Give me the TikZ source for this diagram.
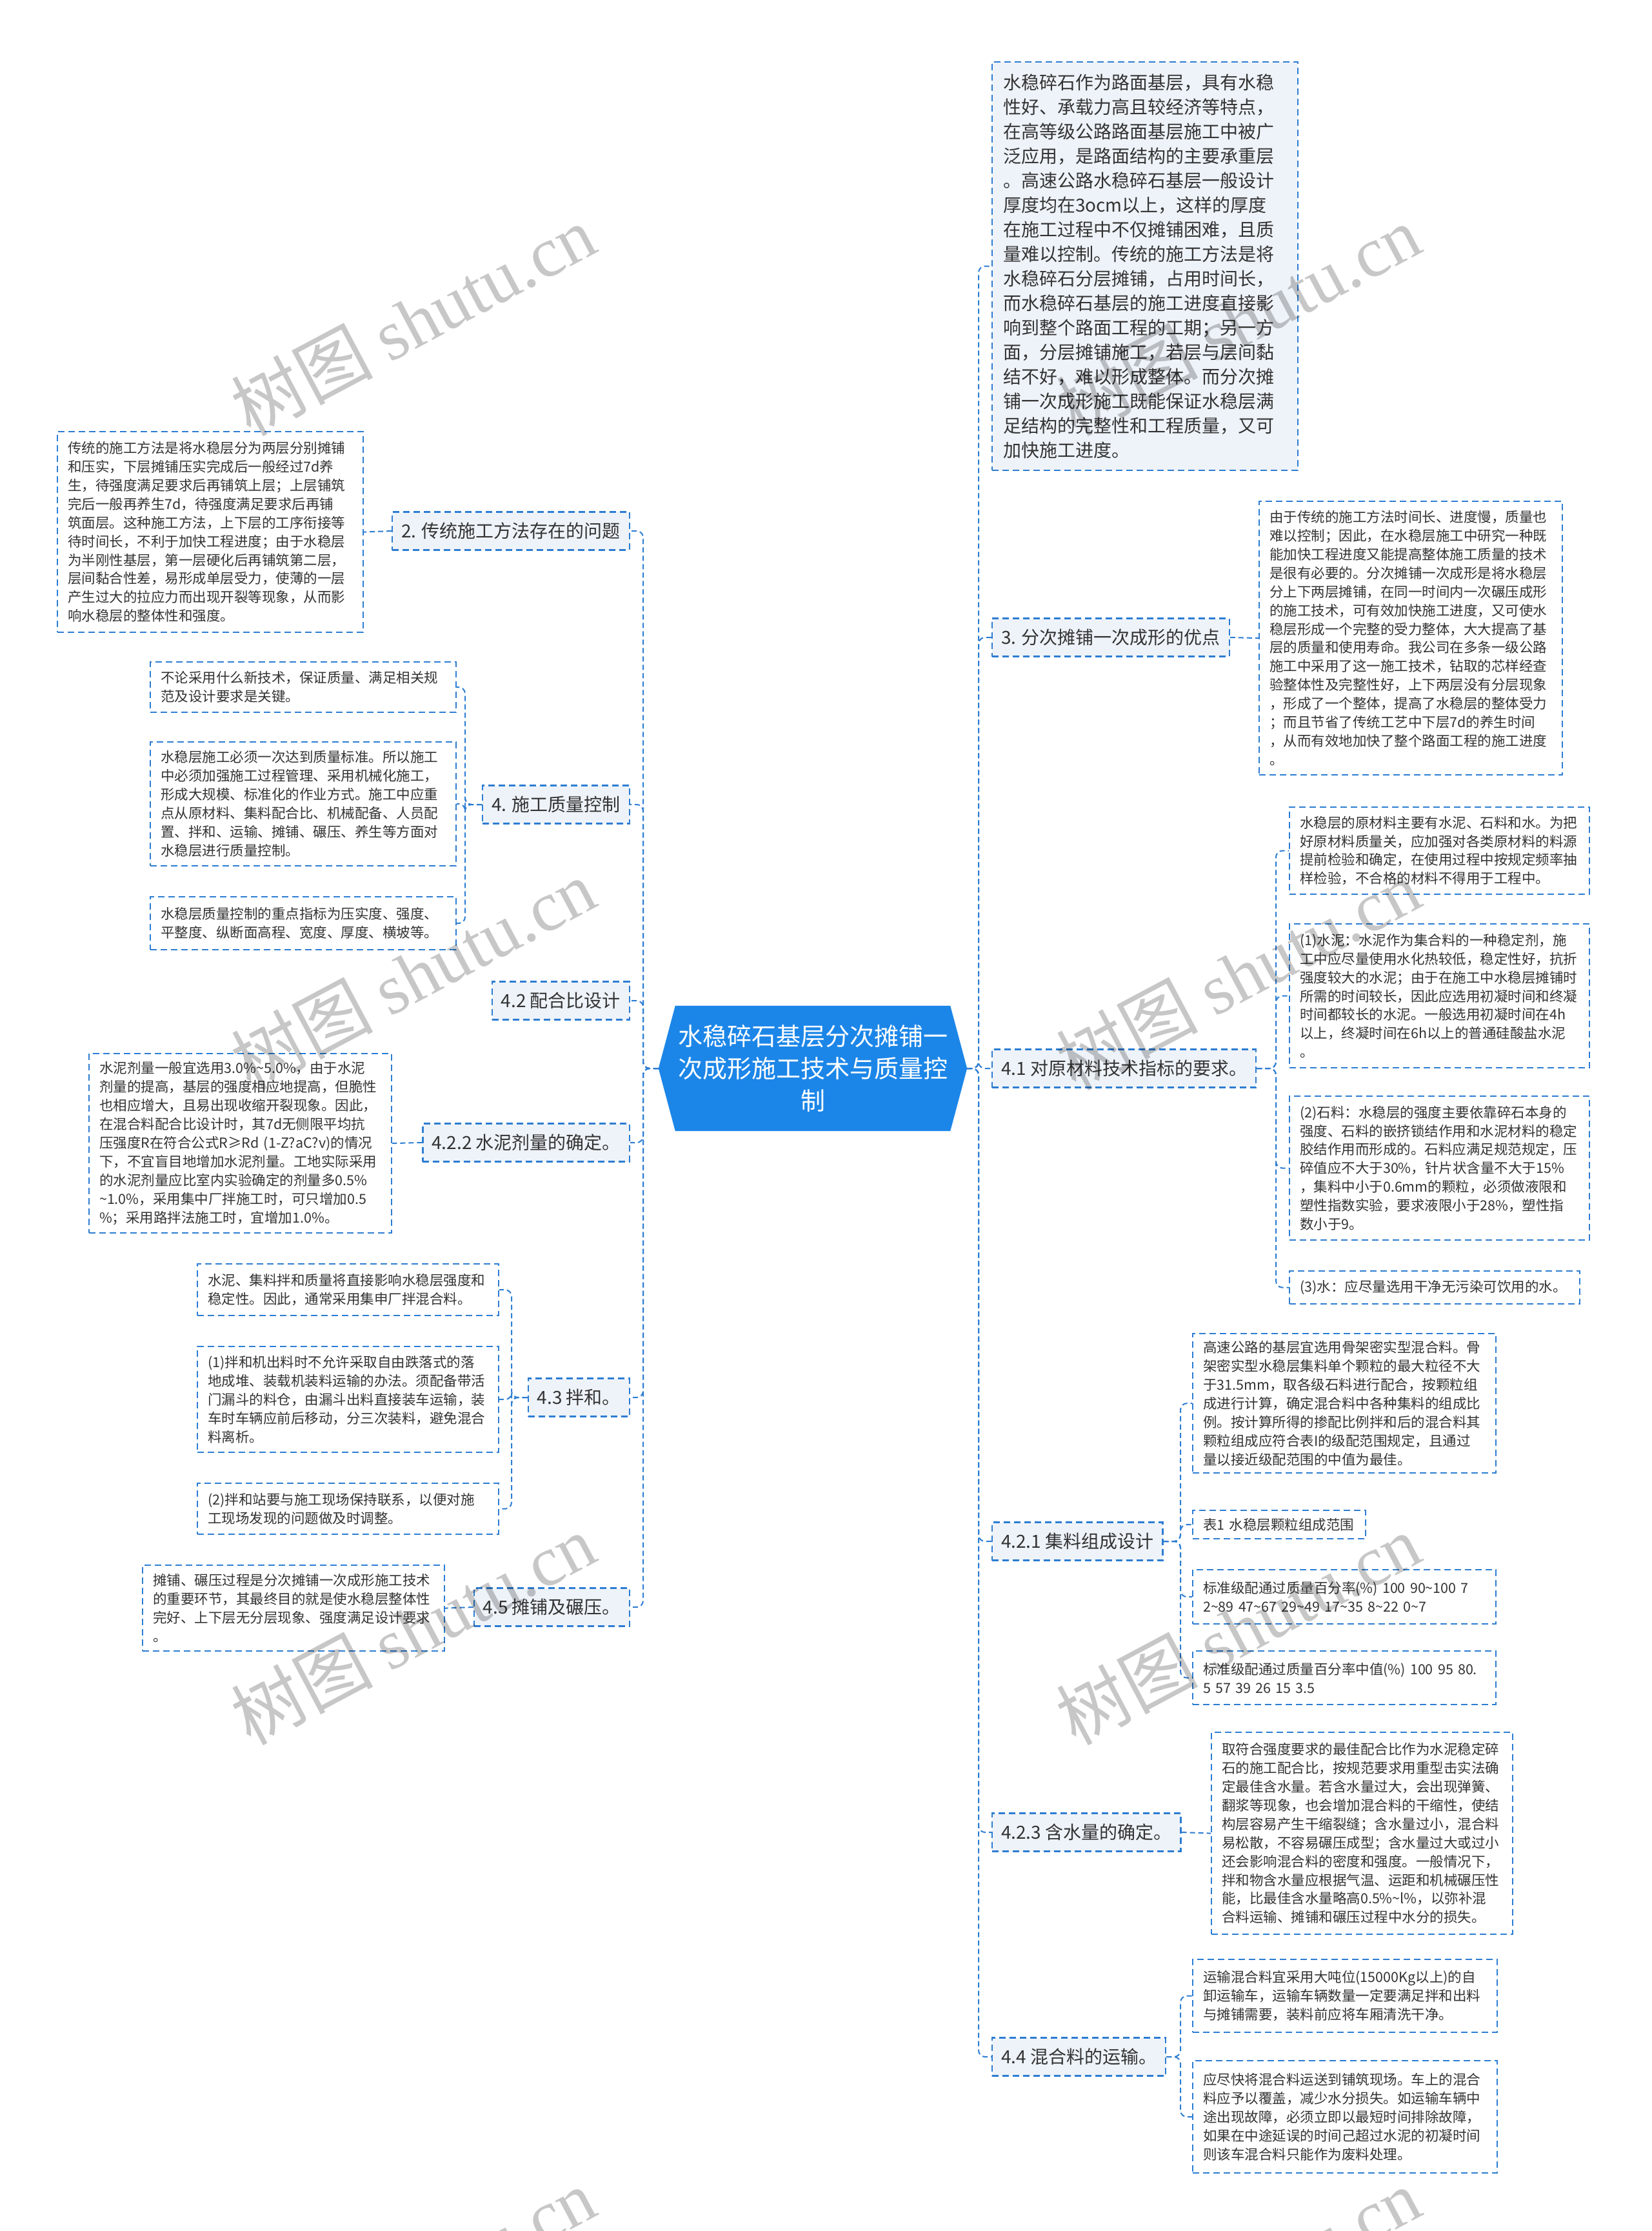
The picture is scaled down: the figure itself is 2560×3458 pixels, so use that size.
\documentclass[tikz,border=0pt]{standalone}
\usepackage{fontspec}
\setmainfont{Noto Sans CJK SC}
\newfontfamily\wmserif{Liberation Serif}
\usetikzlibrary{backgrounds}
\definecolor{lblue}{RGB}{45,125,210}
\definecolor{cblue}{RGB}{28,134,232}
\definecolor{lfill}{RGB}{238,243,249}
\definecolor{txt}{RGB}{51,51,51}
\begin{document}
\begin{tikzpicture}[x=1pt,y=-1pt,
  box/.style={draw=lblue,line width=2.2pt,dash pattern=on 10pt off 6pt,text=txt,align=left,inner xsep=16pt,inner ysep=0pt},
  leaf/.style={box,fill=white,anchor=north west,font=\fontsize{21.5}{28.9}\selectfont},
  lvl/.style={box,fill=lfill,font=\fontsize{28}{36}\selectfont,inner xsep=14pt,minimum height=59pt},
  conn/.style={draw=lblue,line width=2pt,dash pattern=on 8pt off 5pt,rounded corners=10pt},
  wmark/.style={text=black,text opacity=0.22,rotate=28,font=\fontsize{110}{110}\selectfont}
]
\useasboundingbox (0,0) rectangle (2560,3458);

% centre
\node[text=white,align=center,font=\fontsize{38}{50}\selectfont,minimum width=426pt,minimum height=194pt,inner sep=0pt] (c) at (1260,1656) {水稳碎石基层分次摊铺一\\次成形施工技术与质量控\\制};
\coordinate (cL) at ([xshift=-26pt]c.west);
\coordinate (cR) at ([xshift=26pt]c.east);
\begin{scope}[on background layer]
\fill[white] (0,0) rectangle (2560,3458);
\fill[cblue] (cL) -- (c.north west) -- (c.north east) -- (cR) -- (c.south east) -- (c.south west) -- cycle;
\end{scope}
\coordinate (rt) at (1517,1656);
\coordinate (lt) at (997,1656);

% ---------------- right side ----------------
\node[box,fill=lfill,anchor=north west,font=\fontsize{28}{38}\selectfont,inner xsep=17pt,text width=440pt,minimum height=633pt] (R0) at (1537,95) {水稳碎石作为路面基层，具有水稳\\性好、承载力高且较经济等特点，\\在高等级公路路面基层施工中被广\\泛应用，是路面结构的主要承重层\\。高速公路水稳碎石基层一般设计\\厚度均在3ocm以上，这样的厚度\\在施工过程中不仅摊铺困难，且质\\量难以控制。传统的施工方法是将\\水稳碎石分层摊铺，占用时间长，\\而水稳碎石基层的施工进度直接影\\响到整个路面工程的工期；另一方\\面，分层摊铺施工，若层与层间黏\\结不好，难以形成整体。而分次摊\\铺一次成形施工既能保证水稳层满\\足结构的完整性和工程质量，又可\\加快施工进度。};

\node[lvl,anchor=west] (R3) at (1537,988) {3. 分次摊铺一次成形的优点};
\node[leaf,text width=438pt,minimum height=424pt] (R3a) at (1951,776) {由于传统的施工方法时间长、进度慢，质量也\\难以控制；因此，在水稳层施工中研究一种既\\能加快工程进度又能提高整体施工质量的技术\\是很有必要的。分次摊铺一次成形是将水稳层\\分上下两层摊铺，在同一时间内一次碾压成形\\的施工技术，可有效加快施工进度，又可使水\\稳层形成一个完整的受力整体，大大提高了基\\层的质量和使用寿命。我公司在多条一级公路\\施工中采用了这一施工技术，钻取的芯样经查\\验整体性及完整性好，上下两层没有分层现象\\，形成了一个整体，提高了水稳层的整体受力\\；而且节省了传统工艺中下层7d的养生时间\\，从而有效地加快了整个路面工程的施工进度\\。};

\node[lvl,anchor=west] (R41) at (1537,1656) {4.1 对原材料技术指标的要求。};
\node[leaf,text width=433pt,minimum height=135pt] (R41a) at (1998,1250) {水稳层的原材料主要有水泥、石料和水。为把\\好原材料质量关，应加强对各类原材料的料源\\提前检验和确定，在使用过程中按规定频率抽\\样检验，不合格的材料不得用于工程中。};
\node[leaf,text width=433pt,minimum height=223pt] (R41b) at (1998,1431) {(1)水泥：水泥作为集合料的一种稳定剂，施\\工中应尽量使用水化热较低，稳定性好，抗折\\强度较大的水泥；由于在施工中水稳层摊铺时\\所需的时间较长，因此应选用初凝时间和终凝\\时间都较长的水泥。一般选用初凝时间在4h\\以上，终凝时间在6h以上的普通硅酸盐水泥\\。};
\node[leaf,text width=433pt,minimum height=223pt] (R41c) at (1998,1698) {(2)石料：水稳层的强度主要依靠碎石本身的\\强度、石料的嵌挤锁结作用和水泥材料的稳定\\胶结作用而形成的。石料应满足规范规定，压\\碎值应不大于30\%，针片状含量不大于15\%\\，集料中小于0.6mm的颗粒，必须做液限和\\塑性指数实验，要求液限小于28\%，塑性指\\数小于9。};
\node[leaf,text width=418pt,minimum height=51pt] (R41d) at (1998,1969) {(3)水：应尽量选用干净无污染可饮用的水。};

\node[lvl,anchor=west] (R421) at (1537,2389) {4.2.1 集料组成设计};
\node[leaf,text width=438pt,minimum height=216pt] (R421a) at (1848,2066) {高速公路的基层宜选用骨架密实型混合料。骨\\架密实型水稳层集料单个颗粒的最大粒径不大\\于31.5mm，取各级石料进行配合，按颗粒组\\成进行计算，确定混合料中各种集料的组成比\\例。按计算所得的掺配比例拌和后的混合料其\\颗粒组成应符合表I的级配范围规定，且通过\\量以接近级配范围的中值为最佳。};
\node[leaf,text width=236pt,minimum height=44pt] (R421b) at (1848,2340) {表1 水稳层颗粒组成范围};
\node[leaf,text width=438pt,minimum height=84pt] (R421c) at (1848,2432) {标准级配通过质量百分率(\%) 100 90\textasciitilde{}100 7\\2\textasciitilde{}89 47\textasciitilde{}67 29\textasciitilde{}49 17\textasciitilde{}35 8\textasciitilde{}22 0\textasciitilde{}7};
\node[leaf,text width=438pt,minimum height=83pt] (R421d) at (1848,2558) {标准级配通过质量百分率中值(\%) 100 95 80.\\5 57 39 26 15 3.5};

\node[lvl,anchor=west] (R423) at (1537,2840) {4.2.3 含水量的确定。};
\node[leaf,text width=435pt,minimum height=313pt] (R423a) at (1877,2684) {取符合强度要求的最佳配合比作为水泥稳定碎\\石的施工配合比，按规范要求用重型击实法确\\定最佳含水量。若含水量过大，会出现弹簧、\\翻浆等现象，也会增加混合料的干缩性，使结\\构层容易产生干缩裂缝；含水量过小，混合料\\易松散，不容易碾压成型；含水量过大或过小\\还会影响混合料的密度和强度。一般情况下，\\拌和物含水量应根据气温、运距和机械碾压性\\能，比最佳含水量略高0.5\%\textasciitilde{}l\%，以弥补混\\合料运输、摊铺和碾压过程中水分的损失。};

\node[lvl,anchor=west] (R44) at (1537,3188) {4.4 混合料的运输。};
\node[leaf,text width=440pt,minimum height=113pt] (R44a) at (1848,3036) {运输混合料宜采用大吨位(15000Kg以上)的自\\卸运输车，运输车辆数量一定要满足拌和出料\\与摊铺需要，装料前应将车厢清洗干净。};
\node[leaf,text width=440pt,minimum height=174pt] (R44b) at (1848,3193) {应尽快将混合料运送到铺筑现场。车上的混合\\料应予以覆盖，减少水分损失。如运输车辆中\\途出现故障，必须立即以最短时间排除故障，\\如果在中途延误的时间己超过水泥的初凝时间\\则该车混合料只能作为废料处理。};

% ---------------- left side ----------------
\node[lvl,anchor=east] (L2) at (977,823) {2. 传统施工方法存在的问题};
\node[leaf,text width=442pt,minimum height=311pt] (L2a) at (88,668) {传统的施工方法是将水稳层分为两层分别摊铺\\和压实，下层摊铺压实完成后一般经过7d养\\生，待强度满足要求后再铺筑上层；上层铺筑\\完后一般再养生7d，待强度满足要求后再铺\\筑面层。这种施工方法，上下层的工序衔接等\\待时间长，不利于加快工程进度；由于水稳层\\为半刚性基层，第一层硬化后再铺筑第二层，\\层间黏合性差，易形成单层受力，使薄的一层\\产生过大的拉应力而出现开裂等现象，从而影\\响水稳层的整体性和强度。};

\node[lvl,anchor=east] (L4) at (977,1247) {4. 施工质量控制};
\node[leaf,text width=442pt,minimum height=78pt] (L4a) at (232,1025) {不论采用什么新技术，保证质量、满足相关规\\范及设计要求是关键。};
\node[leaf,text width=442pt,minimum height=192pt] (L4b) at (232,1149) {水稳层施工必须一次达到质量标准。所以施工\\中必须加强施工过程管理、采用机械化施工，\\形成大规模、标准化的作业方式。施工中应重\\点从原材料、集料配合比、机械配备、人员配\\置、拌和、运输、摊铺、碾压、养生等方面对\\水稳层进行质量控制。};
\node[leaf,text width=442pt,minimum height=82pt] (L4c) at (232,1389) {水稳层质量控制的重点指标为压实度、强度、\\平整度、纵断面高程、宽度、厚度、横坡等。};

\node[lvl,anchor=east] (L42) at (977,1551) {4.2 配合比设计};

\node[lvl,anchor=east] (L422) at (977,1771) {4.2.2 水泥剂量的确定。};
\node[leaf,text width=437pt,minimum height=278pt] (L422a) at (137,1632) {水泥剂量一般宜选用3.0\%\textasciitilde{}5.0\%，由于水泥\\剂量的提高，基层的强度相应地提高，但脆性\\也相应增大，且易出现收缩开裂现象。因此，\\在混合料配合比设计时，其7d无侧限平均抗\\压强度R在符合公式R≥Rd (1-Z?aC?v)的情况\\下，不宜盲目地增加水泥剂量。工地实际采用\\的水泥剂量应比室内实验确定的剂量多0.5\%\\\textasciitilde{}1.0\%，采用集中厂拌施工时，可只增加0.5\\\%；采用路拌法施工时，宜增加1.0\%。};

\node[lvl,anchor=east] (L43) at (977,2166) {4.3 拌和。};
\node[leaf,text width=435pt,minimum height=80pt] (L43a) at (305,1958) {水泥、集料拌和质量将直接影响水稳层强度和\\稳定性。因此，通常采用集申厂拌混合料。};
\node[leaf,text width=435pt,minimum height=164pt] (L43b) at (305,2086) {(1)拌和机出料时不允许采取自由跌落式的落\\地成堆、装载机装料运输的办法。须配备带活\\门漏斗的料仓，由漏斗出料直接装车运输，装\\车时车辆应前后移动，分三次装料，避免混合\\料离析。};
\node[leaf,text width=435pt,minimum height=79pt] (L43c) at (305,2298) {(2)拌和站要与施工现场保持联系，以便对施\\工现场发现的问题做及时调整。};

\node[lvl,anchor=east] (L45) at (977,2491) {4.5 摊铺及碾压。};
\node[leaf,text width=436pt,minimum height=133pt] (L45a) at (220,2425) {摊铺、碾压过程是分次摊铺一次成形施工技术\\的重要环节，其最终目的就是使水稳层整体性\\完好、上下层无分层现象、强度满足设计要求\\。};

% ---------------- connectors ----------------
\foreach \n in {R0,R3,R41,R421,R423,R44} \draw[conn] (cR) -- (rt) |- (\n.west);
\foreach \n in {L2,L4,L42,L422,L43,L45} \draw[conn] (cL) -- (lt) |- (\n.east);

\draw[conn] (R3.east) -- (R3a.west);
\coordinate (j41) at (1978,1656);
\foreach \n in {R41a,R41b,R41c,R41d} \draw[conn] (R41.east) -- (j41) |- (\n.west);
\coordinate (j421) at (1830,2389);
\foreach \n in {R421a,R421b,R421c,R421d} \draw[conn] (R421.east) -- (j421) |- (\n.west);
\draw[conn] (R423.east) -- (R423a.west);
\coordinate (j44) at (1830,3188);
\foreach \n in {R44a,R44b} \draw[conn] (R44.east) -- (j44) |- (\n.west);

\draw[conn] (L2.west) -- (L2a.east);
\coordinate (j4) at (721,1247);
\foreach \n in {L4a,L4b,L4c} \draw[conn] (L4.west) -- (j4) |- (\n.east);
\draw[conn] (L422.west) -- (L422a.east);
\coordinate (j43) at (793,2166);
\foreach \n in {L43a,L43b,L43c} \draw[conn] (L43.west) -- (j43) |- (\n.east);
\draw[conn] (L45.west) -- (L45a.east);

% ---------------- watermarks ----------------
\node[wmark] (w1) at (640,496) {树图 {\wmserif shutu.cn}};
\node[wmark] (w2) at (1919,496) {树图 {\wmserif shutu.cn}};
\node[wmark] (w3) at (640,1510) {树图 {\wmserif shutu.cn}};
\node[wmark] (w4) at (1919,1510) {树图 {\wmserif shutu.cn}};
\node[wmark] (w5) at (640,2525) {树图 {\wmserif shutu.cn}};
\node[wmark] (w6) at (1919,2525) {树图 {\wmserif shutu.cn}};
\node[wmark] (w7) at (640,3539) {树图 {\wmserif shutu.cn}};
\node[wmark] (w8) at (1919,3539) {树图 {\wmserif shutu.cn}};
\end{tikzpicture}
\end{document}
